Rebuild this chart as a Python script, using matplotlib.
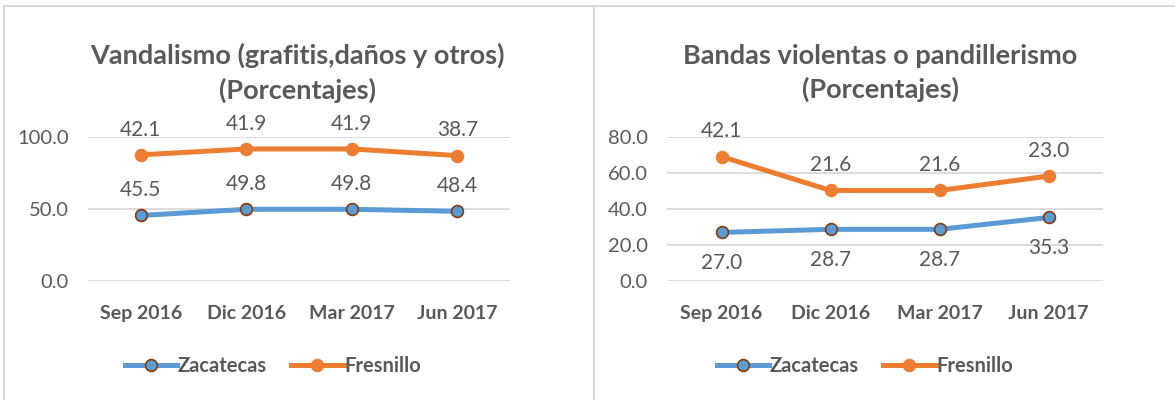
import matplotlib
matplotlib.use("Agg")
import matplotlib.pyplot as plt
from matplotlib.lines import Line2D
import numpy as np

categories = ["Sep 2016", "Dic 2016", "Mar 2017", "Jun 2017"]

vand_zac = [45.5, 49.8, 49.8, 48.4]
vand_fre = [42.1, 41.9, 41.9, 38.7]

band_zac = [27.0, 28.7, 28.7, 35.3]
band_fre = [42.1, 21.6, 21.6, 23.0]

titles = ["Vandalismo (grafitis,daños y otros)\n(Porcentajes)",
          "Bandas violentas o pandillerismo\n(Porcentajes)"]
series_names = ["Zacatecas", "Fresnillo"]

BLUE = "#5B9BD5"
ORANGE = "#ED7D31"
EDGE_BLUE = "#843C0C"
GRAY = "#595959"
GRID = "#D9D9D9"

plt.rcParams['font.family'] = ['Lato', 'DejaVu Sans']

W, H = 1175, 400
fig = plt.figure(figsize=(W / 100, H / 100), dpi=100)

def fx(px):
    return px / W

def fy(py):
    return 1 - py / H

# panel borders
for line in [
    Line2D([fx(4), fx(1175)], [fy(6), fy(6)]),
    Line2D([fx(4), fx(4)], [fy(6), fy(400)]),
    Line2D([fx(594), fx(594)], [fy(6), fy(400)]),
]:
    line.set_color("#D9D9D9")
    line.set_linewidth(1.5)
    line.set_transform(fig.transFigure)
    fig.add_artist(line)

panels = [
    dict(zac=vand_zac, fre=vand_fre, ymax=100, step=50,
         box=(88, 137, 510, 281), zac_above=True, title=titles[0],
         title_x=(4 + 594) / 2 - 2, legend_x=273),
    dict(zac=band_zac, fre=band_fre, ymax=80, step=20,
         box=(667, 137, 1103, 281), zac_above=False, title=titles[1],
         title_x=(594 + 1175) / 2 - 4, legend_x=865),
]

for p in panels:
    x0, y0, x1, y1 = p["box"]
    ax = fig.add_axes([fx(x0), fy(y1), fx(x1) - fx(x0), fy(y0) - fy(y1)])
    x = np.arange(len(categories))
    zac = np.array(p["zac"])
    fre_stack = zac + np.array(p["fre"])

    ax.plot(x, zac, color=BLUE, lw=3.6, marker="o", ms=8.5,
            mfc=BLUE, mec=EDGE_BLUE, mew=1.2, zorder=3, solid_capstyle="round")
    ax.plot(x, fre_stack, color=ORANGE, lw=3.6, marker="o", ms=8.5,
            mfc=ORANGE, mec=ORANGE, mew=1.2, zorder=3, solid_capstyle="round")

    for xi, zv, fv, fs in zip(x, zac, p["fre"], fre_stack):
        ax.annotate(f"{fv:.1f}", (xi, fs), xytext=(0, 11), textcoords="offset points",
                    ha="center", va="bottom", fontsize=15, color=GRAY)
        if p["zac_above"]:
            ax.annotate(f"{zv:.1f}", (xi, zv), xytext=(0, 11), textcoords="offset points",
                        ha="center", va="bottom", fontsize=15, color=GRAY)
        else:
            ax.annotate(f"{zv:.1f}", (xi, zv), xytext=(0, -15), textcoords="offset points",
                        ha="center", va="top", fontsize=15, color=GRAY)

    ax.set_xlim(-0.5, len(categories) - 0.5)
    ax.set_ylim(0, p["ymax"])
    ticks = np.arange(0, p["ymax"] + 0.1, p["step"])
    ax.set_yticks(ticks)
    ax.set_yticklabels([f"{t:.1f}" for t in ticks])
    ax.set_xticks(x)
    ax.set_xticklabels(categories, fontweight="bold")
    ax.tick_params(axis="y", length=0, labelsize=14.5, labelcolor=GRAY, pad=14)
    ax.tick_params(axis="x", length=0, labelsize=14, labelcolor=GRAY, pad=17)
    ax.grid(axis="y", color=GRID, lw=1.3)
    ax.set_axisbelow(True)
    for s in ax.spines.values():
        s.set_visible(False)
    ax.patch.set_alpha(0)

    fig.text(fx(p["title_x"]), fy(73), p["title"], ha="center", va="center",
             fontsize=19.5, fontweight="bold", color=GRAY, linespacing=1.45)

    handles = [
        Line2D([], [], color=BLUE, lw=3.6, marker="o", ms=8.5, mfc=BLUE, mec=EDGE_BLUE, mew=1.2),
        Line2D([], [], color=ORANGE, lw=3.6, marker="o", ms=8.5, mfc=ORANGE, mec=ORANGE, mew=1.2),
    ]
    leg = fig.legend(handles, series_names, loc="center", bbox_to_anchor=(fx(p["legend_x"]), fy(366)),
                     ncol=2, frameon=False, handlelength=2.6, handletextpad=0.05,
                     columnspacing=1.2, prop=dict(size=14.5, weight="bold"))
    for t in leg.get_texts():
        t.set_color(GRAY)

fig.savefig("out.png", dpi=100, facecolor="white")
